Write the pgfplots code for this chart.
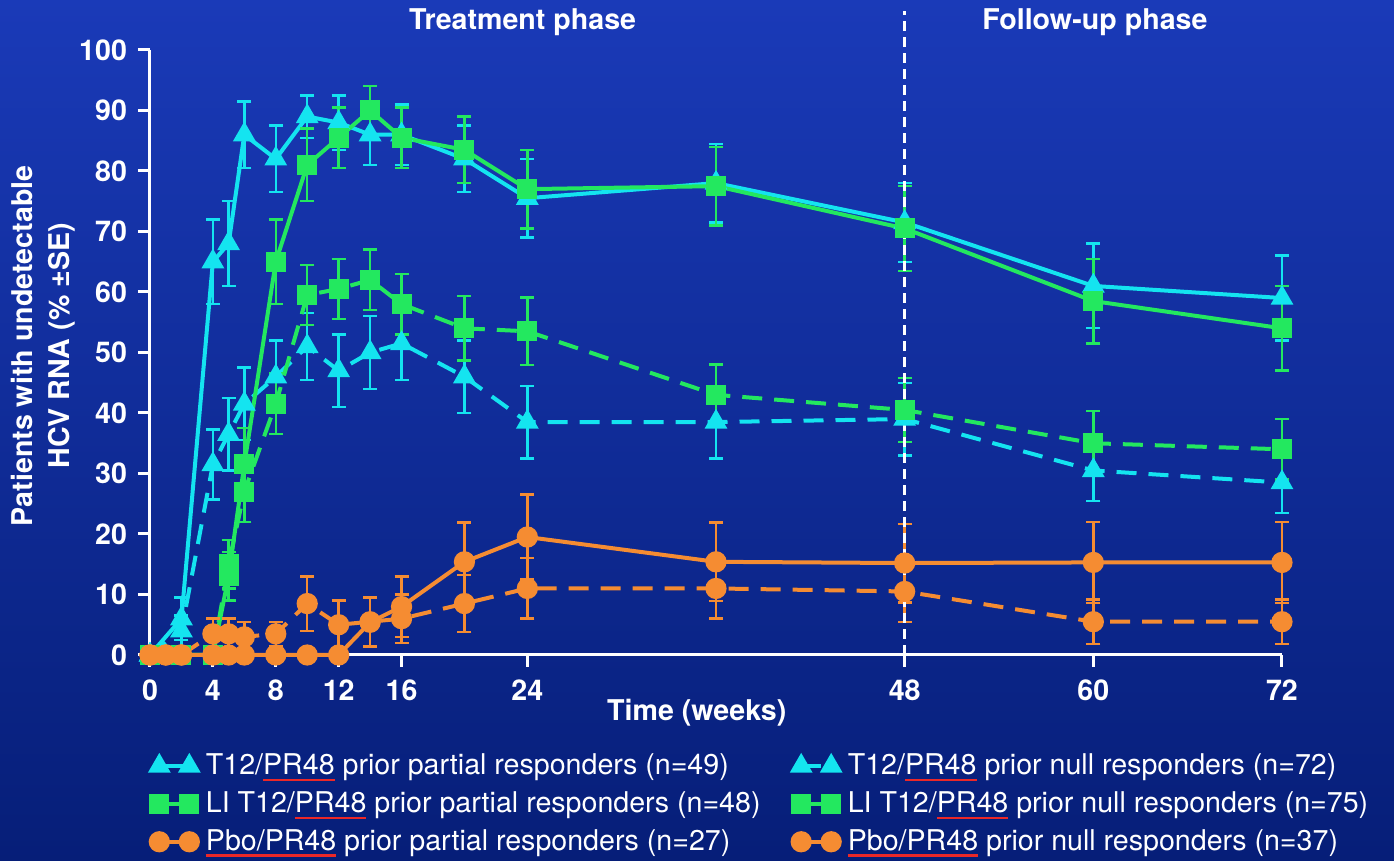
\documentclass[border=0pt]{standalone}
\usepackage{pgfplots}
\pgfplotsset{compat=1.18}
\usepackage{pgfplotstable}
\usepackage{fontspec}
\setmainfont{TeX Gyre Heros}
\definecolor{bgtop}{RGB}{26,58,184}
\definecolor{bgbot}{RGB}{6,30,120}
\definecolor{cy}{RGB}{20,228,240}
\definecolor{gr}{RGB}{35,232,95}
\definecolor{orr}{RGB}{245,140,50}
\definecolor{ulred}{RGB}{235,40,40}
\newsavebox\rubox
\newcommand\ru[1]{\leavevmode\sbox\rubox{#1}\rlap{\textcolor{ulred}{\rule[-3.2pt]{\wd\rubox}{1.3pt}}}\usebox\rubox}
\newcommand\fs{\fontsize{14.3}{17}\selectfont}

% week value err
\pgfplotstableread{
w v e
0 0 0
2 6 3.5
4 65 7
5 68 7
6 86 5.5
8 82 5.5
10 89 3.5
12 88 4.5
14 86 5
16 86 5
20 82 5.5
24 75.5 6.5
36 78 6.5
48 71.5 6.5
60 61 7
72 59 7
}\cyS
\pgfplotstableread{
w v e
0 0 0
2 4 2.5
4 31.5 5.8
5 36.5 6
6 41.5 6
8 46 6
10 51 5.5
12 47 6
14 50 6
16 51.5 6
20 46 6
24 38.5 6
36 38.5 6
48 39 6
60 30.5 5
72 28.5 5
}\cyD
\pgfplotstableread{
w v e
0 0 0
2 0 0
4 0 0
5 13 4
6 31.5 6
8 65 7
10 81 6
12 85.5 5
14 90 4
16 85.5 5
20 83.5 5.5
24 77 6.5
36 77.5 6.5
48 70.5 7
60 58.5 7
72 54 7
}\grS
\pgfplotstableread{
w v e
0 0 0
2 0 0
4 0 0
5 15 4
6 27 5
8 41.5 5
10 59.5 5
12 60.5 5
14 62 5
16 58 5
20 54 5.3
24 53.5 5.6
36 43 5
48 40.5 5.3
60 35 5.3
72 34 5
}\grD
\pgfplotstableread{
w v e
0 0 0
1 0 0
2 0 0
4 0 0
5 0 0
6 0 0
8 0 0
10 0 0
12 0 0
14 5.4 4
16 8 5
20 15.4 6.5
24 19.5 7
36 15.4 6.5
48 15.2 6.5
60 15.3 6.7
72 15.3 6.7
}\orS
\pgfplotstableread{
w v e
0 0 0
1 0 0
2 0 0
4 3.5 2.5
5 3.5 2.5
6 3 2.5
8 3.5 2
10 8.5 4.5
12 5 4
14 5.5 4
16 6 4
20 8.5 4.7
24 11 5
36 11 5
48 10.5 5
60 5.5 3.7
72 5.5 3.7
}\orD

\begin{document}
\begin{tikzpicture}
\fill[top color=bgtop, bottom color=bgbot] (-75pt,-103pt) rectangle (622pt,327.5pt);
\begin{axis}[
  scale only axis, width=566pt, height=302.5pt,
  xmin=0, xmax=72, ymin=0, ymax=100,
  clip=false,
  axis x line*=bottom, axis y line*=left,
  axis line style={white, line width=1.5pt, -},
  xtick={0,4,8,12,16,24,48,60,72},
  ytick={0,10,...,100},
  tick style={white, line width=1.5pt},
  major tick length=6pt, tick align=outside,
  /pgf/number format/assume math mode=true,
  ticklabel style={font=\bfseries\fs, text=white},
  xticklabel style={yshift=-3pt},
  yticklabel style={xshift=-2pt},
  xlabel={Time (weeks)},
  xlabel style={font=\bfseries\fs, text=white, at={(axis description cs:0.483,-0.096)}, anchor=center},
  ylabel={Patients with undetectable\\HCV RNA (\% ±SE)},
  ylabel style={font=\bfseries\fontsize{14.3}{18.5}\selectfont, text=white, align=center, at={(axis description cs:-0.094,0.511)}, anchor=center},
  error bars/y dir=both, error bars/y explicit,
  error bars/error bar style={line width=1.2pt, solid},
  error bars/error mark options={rotate=90, mark size=3.5pt, line width=1.2pt, solid},
  legend image code/.code={\draw[#1] plot coordinates {(0pt,0pt) (15pt,0pt)};},
  legend columns=2,
  legend cell align=left,
  legend style={at={(axis description cs:-0.005,-0.15)}, anchor=north west, draw=none, fill=none,
    text=white, font=\fs, row sep=3pt,
    /tikz/every even column/.append style={column sep=14pt},
    /tikz/every odd column/.append style={column sep=2pt}},
]
\addplot[cy, line width=2pt, mark=triangle*, mark size=4.6pt, mark options={solid}]
  table[x=w, y=v, y error=e] {\cyS};
\addlegendentry{T12/\ru{PR48} prior partial responders (n=49)}
\addplot[cy, line width=2pt, dash pattern=on 10pt off 6pt, mark=triangle*, mark size=4.6pt, mark options={solid}]
  table[x=w, y=v, y error=e] {\cyD};
\addlegendentry{T12/\ru{PR48} prior null responders (n=72)}
\addplot[gr, line width=2pt, mark=square*, mark size=4pt, mark options={solid}]
  table[x=w, y=v, y error=e] {\grS};
\addlegendentry{LI T12/\ru{PR48} prior partial responders (n=48)}
\addplot[gr, line width=2pt, dash pattern=on 10pt off 6pt, mark=square*, mark size=4pt, mark options={solid}]
  table[x=w, y=v, y error=e] {\grD};
\addlegendentry{LI T12/\ru{PR48} prior null responders (n=75)}
\addplot[orr, line width=2pt, mark=*, mark size=4.3pt, mark options={solid}]
  table[x=w, y=v, y error=e] {\orS};
\addlegendentry{\ru{Pbo/PR48} prior partial responders (n=27)}
\addplot[orr, line width=2pt, dash pattern=on 10pt off 6pt, mark=*, mark size=4.3pt, mark options={solid}]
  table[x=w, y=v, y error=e] {\orD};
\addlegendentry{\ru{Pbo/PR48} prior null responders (n=37)}
\addplot[white, line width=1.6pt, dash pattern=on 5pt off 3pt, forget plot, no marks, error bars/y dir=none]
  coordinates {(48,0) (48,106.5)};
\node[white, font=\bfseries\fs] at (axis cs:23.7,104.6) {Treatment phase};
\node[white, font=\bfseries\fs] at (axis cs:60.1,104.6) {Follow-up phase};
\end{axis}
\pgfresetboundingbox
\path (-75pt,-103pt) rectangle (622pt,327.5pt);
\end{tikzpicture}
\end{document}
